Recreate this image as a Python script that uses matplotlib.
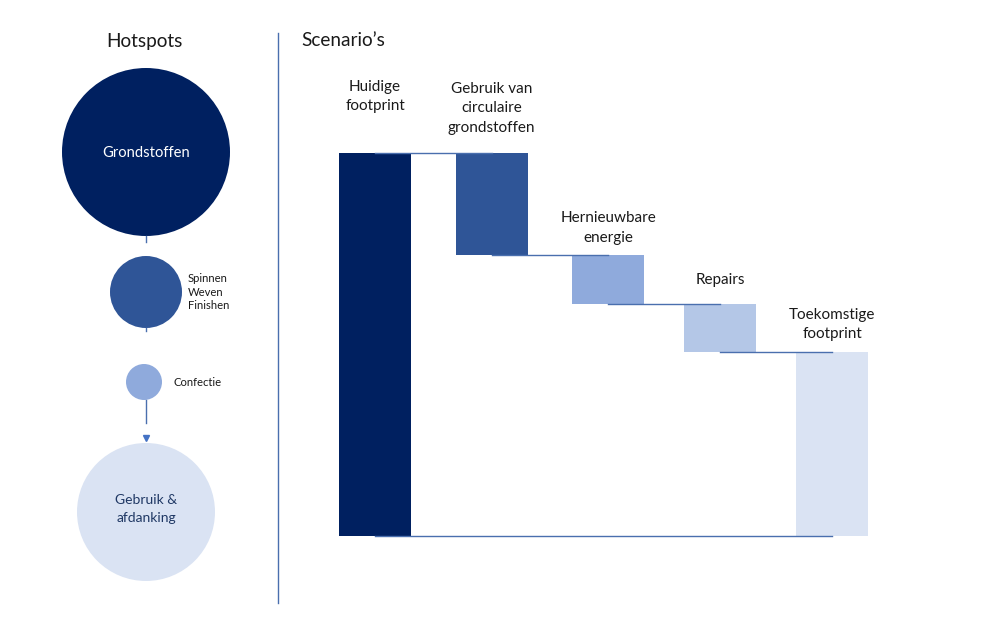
import matplotlib
matplotlib.use("Agg")
import matplotlib.pyplot as plt
from matplotlib.patches import Circle
from matplotlib.transforms import blended_transform_factory

plt.rcParams['font.family'] = ['Lato', 'DejaVu Sans']

# hotspots (left panel)
hotspot_names = ["Grondstoffen", "Spinnen\nWeven\nFinishen", "Confectie", "Gebruik &\nafdanking"]
hotspot_sizes = [84, 36, 18, 69]          # circle radius, px
hotspot_colors = ["#002060", "#2F5597", "#8FAADC", "#DAE3F3"]

# scenario waterfall (right panel)
scenario_labels = ["Huidige\nfootprint", "Gebruik van\ncirculaire\ngrondstoffen",
                   "Hernieuwbare\nenergie", "Repairs", "Toekomstige\nfootprint"]
scenario_values = [100, -26.6, -12.8, -12.6, 48.0]
scenario_colors = ["#002060", "#2F5597", "#8FAADC", "#B4C7E7", "#DAE3F3"]
line_col = "#4A6FAE"
txt_col = "#1a1a1a"

W, H = 985, 632
fig = plt.figure(figsize=(W / 100, H / 100), dpi=100)

# ---- left panel, drawn in pixel coords
ax0 = fig.add_axes([0, 0, 1, 1])
ax0.set_xlim(0, W)
ax0.set_ylim(H, 0)
ax0.axis("off")

ax0.text(144, 41, "Hotspots", ha="center", va="center", fontsize=13.7, color=txt_col)
ax0.text(301, 41, "Scenario\u2019s", ha="left", va="center", fontsize=13.7, color=txt_col)
ax0.plot([278, 278], [33, 603], color=line_col, lw=1)

cy = [152, 292, 382, 512]
cx = [146, 146, 144, 146]
for i in range(4):
    ax0.add_patch(Circle((cx[i], cy[i]), hotspot_sizes[i], color=hotspot_colors[i], lw=0))

ax0.text(146, 153, hotspot_names[0], ha="center", va="center", fontsize=10.6, color="white")
ax0.text(188, 292, hotspot_names[1], ha="left", va="center", fontsize=8.1,
         color=txt_col, linespacing=1.3)
ax0.text(173, 383, hotspot_names[2], ha="left", va="center", fontsize=8.1, color=txt_col)
ax0.text(146, 509, hotspot_names[3], ha="center", va="center", fontsize=10,
         color="#1F3864", linespacing=1.6)

# connectors between hotspot circles
ax0.plot([146, 146], [236, 242], color=line_col, lw=1)
ax0.plot([146, 146], [328, 331], color=line_col, lw=1)
ax0.plot([146, 146], [400, 423], color=line_col, lw=1)
ax0.plot([146], [438], marker="v", ms=4.5, color="#4472C4", lw=0)

# ---- right panel: waterfall
px_left, px_right, px_top, px_bot = 300, 900, 70, 560
ax = fig.add_axes([px_left / W, 1 - px_bot / H, (px_right - px_left) / W, (px_bot - px_top) / H])
pitch = 114.25
ax.set_xlim((px_left - 375) / pitch, (px_right - 375) / pitch)
scale = 383 / 100
ax.set_ylim(-(px_bot - 536) / scale, (536 - px_top) / scale)
ax.axis("off")

x_pos = [0, 1.02, 2.04, 3.02, 4.0]
bw = 72 / pitch
level = 0
tops = []
for i, v in enumerate(scenario_values):
    if i == 0 or i == len(scenario_values) - 1:
        bottom, height = 0, v
        level = v
    else:
        bottom, height = level + v, -v
        level = level + v
    ax.bar(x_pos[i], height, bottom=bottom, width=bw, color=scenario_colors[i], lw=0, zorder=2)
    tops.append(bottom + height)

# connector lines between bar centers
lvl = scenario_values[0]
for i in range(1, len(scenario_values)):
    ax.plot([x_pos[i - 1], x_pos[i]], [lvl, lvl], color=line_col, lw=1, zorder=3)
    if i < len(scenario_values) - 1:
        lvl += scenario_values[i]
ax.plot([x_pos[0], x_pos[-1]], [0, 0], color=line_col, lw=1, zorder=3)

# labels above bars
lab_offsets = [0, 13.2, 7.4, 12.5, 8.1]
for i, lab in enumerate(scenario_labels):
    if i == 0:
        tr = blended_transform_factory(ax.transData, ax0.transData)
        ax.text(x_pos[0], 80, lab, transform=tr, ha="center", va="top",
                fontsize=11, color=txt_col, linespacing=1.48)
    else:
        ax.annotate(lab, (x_pos[i], tops[i]), xytext=(0, lab_offsets[i]),
                    textcoords="offset points", ha="center", va="bottom",
                    fontsize=11, color=txt_col, linespacing=1.48)

fig.savefig("out.png", dpi=100)
